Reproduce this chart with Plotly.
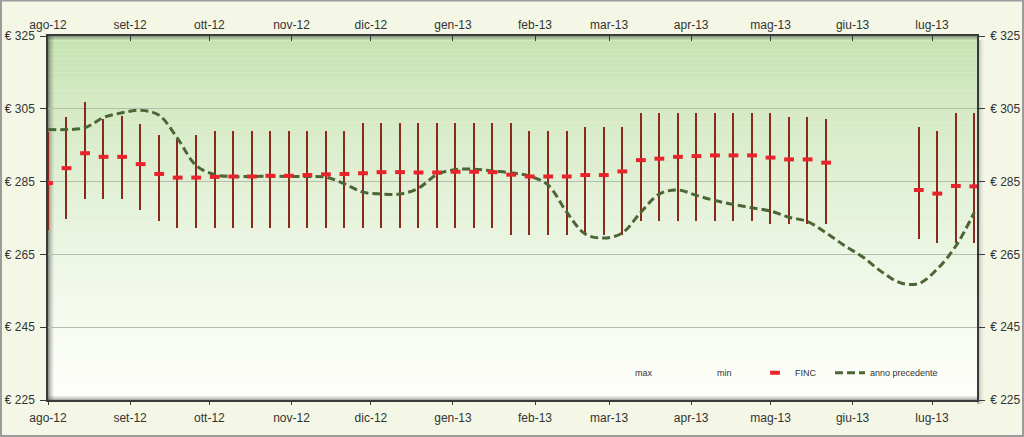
import numpy as np
import plotly.graph_objects as go

# ---------------- data ----------------
week_dates = [
    "2012-08-01", "2012-08-08", "2012-08-15", "2012-08-22", "2012-08-29",
    "2012-09-05", "2012-09-12", "2012-09-19", "2012-09-26", "2012-10-03",
    "2012-10-10", "2012-10-17", "2012-10-24", "2012-10-31", "2012-11-07",
    "2012-11-14", "2012-11-21", "2012-11-28", "2012-12-05", "2012-12-12",
    "2012-12-19", "2012-12-26", "2013-01-02", "2013-01-09", "2013-01-16",
    "2013-01-23", "2013-01-30", "2013-02-06", "2013-02-13", "2013-02-20",
    "2013-02-27", "2013-03-06", "2013-03-13", "2013-03-20", "2013-03-27",
    "2013-04-03", "2013-04-10", "2013-04-17", "2013-04-24", "2013-05-01",
    "2013-05-08", "2013-05-15", "2013-05-22", "2013-05-29", "2013-06-05",
    "2013-06-12", "2013-06-19", "2013-06-26", "2013-07-03", "2013-07-10",
    "2013-07-17",
]

max_vals = [
    298.6, 302.7, 307.0, 302.3, 303.0, 300.9, 297.9, 296.8, 297.9, 298.9,
    298.9, 298.9, 298.9, 298.9, 298.9, 298.9, 298.9, 301.0, 301.0, 301.0,
    301.0, 301.0, 301.0, 301.0, 301.0, 301.0, 298.8, 298.8, 298.8, 300.0,
    300.0, 300.0, 303.9, 303.9, 303.9, 303.9, 303.9, 303.9, 303.9, 303.9,
    302.8, 302.8, 302.1, None, None, None, None, 300.0, 298.9, 303.9,
    303.9,
]

min_vals = [
    271.8, 274.7, 280.1, 280.1, 280.1, 277.1, 274.1, 272.2, 272.2, 272.2,
    272.2, 272.2, 272.2, 272.2, 272.2, 272.2, 272.2, 272.2, 272.2, 272.2,
    272.2, 272.2, 272.2, 272.2, 272.2, 270.2, 270.2, 270.2, 270.2, 270.2,
    270.2, 270.2, 274.3, 274.3, 274.3, 274.3, 274.3, 274.3, 274.3, 273.3,
    273.3, 273.3, 273.3, None, None, None, None, 269.1, 268.1, 268.1,
    268.1,
]

finc_vals = [
    284.6, 288.7, 292.8, 291.8, 291.8, 289.8, 287.1, 286.1, 286.1, 286.3,
    286.4, 286.4, 286.6, 286.6, 286.8, 287.0, 287.1, 287.3, 287.6, 287.6,
    287.5, 287.5, 287.7, 287.7, 287.6, 286.9, 286.4, 286.4, 286.4, 286.8,
    286.8, 287.8, 290.9, 291.3, 291.8, 292.0, 292.2, 292.2, 292.2, 291.6,
    291.1, 291.1, 290.2, None, None, None, None, 282.7, 281.7, 283.8,
    283.7,
]

prev_year_vals = [
    299.3, 299.3, 299.8, 302.6, 303.9, 304.6, 303.2, 296.8, 289.4, 286.9,
    286.4, 286.4, 286.5, 286.4, 286.4, 286.2, 284.4, 282.1, 281.6, 281.6,
    283.2, 287.0, 288.3, 288.4, 287.9, 287.4, 286.5, 284.0, 276.6, 270.6,
    269.5, 270.9, 276.6, 281.6, 282.7, 281.2, 279.8, 278.7, 277.8, 276.9,
    275.2, 274.0, 270.9, 267.4, 264.2, 260.2, 257.2, 257.0, 261.0, 267.3,
    276.6,
]

month_ticks = [
    "2012-08-01", "2012-09-01", "2012-10-01", "2012-11-01", "2012-12-01",
    "2013-01-01", "2013-02-01", "2013-03-01", "2013-04-01", "2013-05-01",
    "2013-06-01", "2013-07-01",
]
month_labels = [
    "ago-12", "set-12", "ott-12", "nov-12", "dic-12", "gen-13", "feb-13",
    "mar-13", "apr-13", "mag-13", "giu-13", "lug-13",
]
y_ticks = [225, 245, 265, 285, 305, 325]
y_labels = ["€ 225", "€ 245", "€ 265", "€ 285", "€ 305", "€ 325"]

# ---------------- derived ----------------
mx = np.array([np.nan if v is None else v for v in max_vals], dtype=float)
mn = np.array([np.nan if v is None else v for v in min_vals], dtype=float)
span = [None if np.isnan(v) else float(v) for v in (mx - mn)]
base = [None if np.isnan(v) else float(v) for v in mn]

FONT = "Liberation Sans, Arial, sans-serif"
TXT = "#333333"
X_RANGE = ["2012-08-01", "2013-07-18"]
DAY_MS = 86400000
PW, PH = 929.0, 364.5
L_MARGIN = 48


def px_to_paper_x(px):
    return (px - L_MARGIN) / PW


fig = go.Figure()

# high-low bars
fig.add_trace(go.Bar(
    x=week_dates, y=span, base=base, width=0.55 * DAY_MS,
    marker=dict(color="#8a2a1a", line=dict(width=0)),
    showlegend=False, hoverinfo="skip",
))

# legend-only invisible series max / min
fig.add_trace(go.Scatter(
    x=week_dates, y=max_vals, name="max", mode="lines",
    line=dict(color="rgba(0,0,0,0)", width=1), legend="legend",
))
fig.add_trace(go.Scatter(
    x=week_dates, y=min_vals, name="min", mode="lines",
    line=dict(color="rgba(0,0,0,0)", width=1), legend="legend2",
))

# previous year smoothed dashed line
fig.add_trace(go.Scatter(
    x=week_dates, y=prev_year_vals, name="anno precedente", mode="lines",
    line=dict(color="#4b6634", width=3, dash="8px,4px", shape="spline",
              smoothing=1.0),
    legend="legend4",
))

# FINC markers
fig.add_trace(go.Scatter(
    x=week_dates, y=finc_vals, name="FINC", mode="markers",
    marker=dict(symbol="line-ew", size=7,
                line=dict(color="#e8232b", width=4)),
    legend="legend3",
))

# dummy trace for the mirrored axes
fig.add_trace(go.Scatter(
    x=[week_dates[0]], y=[finc_vals[0]], xaxis="x2", yaxis="y2",
    mode="markers", marker=dict(opacity=0), showlegend=False,
    hoverinfo="skip",
))

# ---------------- background shapes ----------------
shapes = []
N = 80
top = np.array([198, 227, 178], dtype=float)
bot = np.array([254, 255, 251], dtype=float)
for i in range(N):
    y0 = i / N
    y1 = (i + 1) / N
    t = ((i + 0.5) / N) ** 1.25
    c = bot + (top - bot) * t
    shapes.append(dict(
        type="rect", xref="paper", yref="paper", x0=0, x1=1, y0=y0, y1=y1,
        fillcolor="rgb(%d,%d,%d)" % tuple(c.round()), line=dict(width=0),
        layer="below",
    ))

alphas = [0.55, 0.38, 0.24, 0.13, 0.06]
for k, a in enumerate(alphas):
    shapes.append(dict(type="rect", xref="paper", yref="paper",
                       x0=k * 1.2 / PW, x1=(k + 1) * 1.2 / PW, y0=0, y1=1,
                       fillcolor="rgba(60,60,60,%.2f)" % a,
                       line=dict(width=0), layer="below"))
for k, a in enumerate(alphas[:4]):
    shapes.append(dict(type="rect", xref="paper", yref="paper",
                       x0=0, x1=1, y0=1 - (k + 1) * 1.0 / PH,
                       y1=1 - k * 1.0 / PH,
                       fillcolor="rgba(70,70,70,%.2f)" % (a * 0.8),
                       line=dict(width=0), layer="below"))
    shapes.append(dict(type="rect", xref="paper", yref="paper",
                       x0=0, x1=1, y0=k * 1.0 / PH, y1=(k + 1) * 1.0 / PH,
                       fillcolor="rgba(70,70,70,%.2f)" % (a * 0.8),
                       line=dict(width=0), layer="below"))
for k, a in enumerate(alphas):
    shapes.append(dict(type="rect", xref="paper", yref="paper",
                       x0=1 + k * 1.3 / PW, x1=1 + (k + 1) * 1.3 / PW,
                       y0=-4 / PH, y1=1 - 4 / PH,
                       fillcolor="rgba(80,80,80,%.2f)" % (a * 0.8),
                       line=dict(width=0), layer="below"))

shapes.append(dict(type="rect", xref="paper", yref="paper",
                   x0=-47 / PW, x1=1 + 46 / PW, y0=-36 / PH, y1=1 + 35.5 / PH,
                   fillcolor="rgba(0,0,0,0)",
                   line=dict(color="#9c9c9c", width=2), layer="above"))

axis_common = dict(
    showline=True, linecolor="#3a3a3a", linewidth=1.5,
    tickcolor="#3a3a3a", tickwidth=1,
    tickfont=dict(family=FONT, size=12, color=TXT), zeroline=False,
    automargin=False,
)


def legend_at(px):
    return dict(
        orientation="h", x=px_to_paper_x(px), xanchor="left",
        y=0.075, yanchor="middle", bgcolor="rgba(0,0,0,0)",
        font=dict(family=FONT, size=9, color=TXT), itemwidth=30,
    )


fig.update_layout(
    width=1024, height=437,
    margin=dict(l=48, r=47, t=36, b=36.5, autoexpand=False),
    paper_bgcolor="#f4f7e5", plot_bgcolor="rgba(0,0,0,0)",
    font=dict(family=FONT, color=TXT),
    shapes=shapes,
    showlegend=True,
    legend=legend_at(595),
    legend2=legend_at(677),
    legend3=legend_at(755),
    legend4=legend_at(830),
    xaxis=dict(
        type="date", range=X_RANGE, tickvals=month_ticks, ticktext=month_labels,
        showgrid=False, ticks="outside", ticklen=3, ticklabelstandoff=3,
        **axis_common,
    ),
    xaxis2=dict(
        type="date", range=X_RANGE, tickvals=month_ticks, ticktext=month_labels,
        overlaying="x", side="top", anchor="y2", showgrid=False,
        ticks="inside", ticklen=5, ticklabelstandoff=0, **axis_common,
    ),
    yaxis=dict(
        range=[225, 325], tickvals=y_ticks, ticktext=y_labels,
        showgrid=True, gridcolor="#b5bdad", gridwidth=1, ticks="outside",
        ticklen=6, ticklabelstandoff=3, **axis_common,
    ),
    yaxis2=dict(
        range=[225, 325], tickvals=y_ticks, ticktext=y_labels,
        overlaying="y", side="right", anchor="x2", showgrid=False,
        ticks="outside", ticklen=6, ticklabelstandoff=3, **axis_common,
    ),
    bargap=0,
)

fig.write_html("out.html")
